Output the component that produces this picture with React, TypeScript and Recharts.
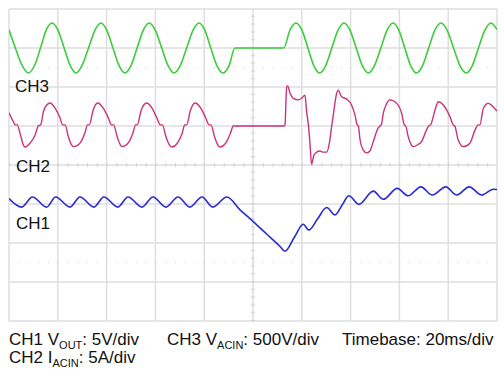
import { LineChart, Line, XAxis, YAxis, ReferenceLine } from "recharts";

// time in ms (20 ms/div), level in screen divisions from the bottom (8 div tall)
const timeGrid = [0, 20, 40, 60, 80, 100, 120, 140, 160, 180, 200];
const levelGrid = [0, 1, 2, 3, 4, 5, 6, 7, 8];
const dottedLevels = [1.5, 6.5];

// CH3 V_ACIN (green)
const ch3: [number, number][] = [
  [0, 7.47], [2.6, 7.0], [5.3, 6.56], [8.0, 6.36], [10.6, 6.57], [12.9, 7.0], [15.2, 7.45], [17.6, 7.64],
  [20.1, 7.45], [22.6, 7.0], [25.1, 6.55], [27.5, 6.36], [30.0, 6.56], [32.6, 7.0], [35.2, 7.45], [37.7, 7.64],
  [40.1, 7.45], [42.6, 7.0], [45.1, 6.55], [47.5, 6.36], [50.0, 6.55], [52.5, 7.0], [55.0, 7.45], [57.4, 7.64],
  [60.0, 7.45], [62.6, 7.0], [65.1, 6.56], [67.6, 6.36], [70.2, 6.55], [72.8, 7.0], [75.4, 7.45], [77.9, 7.64],
  [80.3, 7.45], [82.7, 7.0], [85.2, 6.55], [87.7, 6.36], [90.2, 6.55], [92.6, 7.0],
  [112.6, 7.0], [115.1, 7.45], [117.6, 7.64],
  [120.1, 7.45], [122.5, 7.0], [124.9, 6.55], [127.3, 6.36], [129.8, 6.55], [132.3, 7.0], [134.8, 7.45], [137.3, 7.64],
  [139.8, 7.45], [142.3, 7.0], [144.8, 6.55], [147.3, 6.36], [149.8, 6.55], [152.4, 7.0], [154.9, 7.45], [157.4, 7.64],
  [159.8, 7.45], [162.2, 7.0], [164.6, 6.55], [167.0, 6.36], [169.5, 6.55], [172.0, 7.0], [174.5, 7.45], [177.0, 7.64],
  [179.6, 7.45], [182.2, 7.0], [184.8, 6.55], [187.4, 6.36], [189.9, 6.55], [192.4, 7.0], [195.0, 7.45], [197.5, 7.64],
  [200, 7.47],
];

// CH2 I_ACIN (magenta)
const ch2: [number, number][] = [
  [0, 5.34], [1.8, 5.11], [2.5, 5.03], [3.4, 5.03], [4.5, 4.82], [5.9, 4.51], [6.6, 4.46], [8.6, 4.56],
  [10.7, 4.77], [12.0, 5.0], [13.0, 5.03], [14.1, 5.37], [15.5, 5.54], [16.8, 5.59], [18.9, 5.46], [20.9, 5.21],
  [22.0, 5.03], [23.0, 5.03], [24.3, 4.73], [25.7, 4.51], [26.6, 4.47], [29.1, 4.56], [31.1, 4.82], [32.2, 5.03],
  [32.9, 5.03], [34.5, 5.41], [36.3, 5.59], [38.6, 5.46], [40.7, 5.21], [42.0, 5.03], [42.9, 5.03], [44.3, 4.73],
  [45.7, 4.51], [46.4, 4.47], [48.8, 4.56], [50.8, 4.82], [51.9, 5.03], [52.6, 5.03], [54.2, 5.41], [56.4, 5.59],
  [58.6, 5.46], [60.6, 5.21], [62.0, 5.03], [62.9, 5.03], [64.3, 4.73], [65.8, 4.51], [66.8, 4.46], [69.0, 4.56],
  [71.0, 4.82], [72.0, 5.03], [72.8, 5.03], [74.4, 5.41], [76.2, 5.59], [78.6, 5.46], [80.6, 5.21], [82.0, 5.03],
  [82.8, 5.03], [84.2, 4.73], [85.6, 4.51], [86.5, 4.46], [88.8, 4.56], [90.8, 4.82], [91.9, 5.0],
  [112.6, 5.0], [113.1, 5.03], [113.8, 6.0], [114.2, 6.03], [115.2, 5.84], [116.5, 5.71], [118.6, 5.67],
  [119.9, 5.71], [121.3, 5.79], [122.0, 5.36], [122.7, 5.03], [123.4, 4.51], [124.0, 4.02], [125.0, 4.26],
  [126.1, 4.33], [127.4, 4.36], [128.8, 4.33], [130.2, 4.33], [131.3, 4.56], [132.2, 4.98], [132.9, 5.28],
  [134.3, 5.84], [134.9, 5.92], [136.3, 5.75], [138.4, 5.69], [140.4, 5.54], [141.8, 5.28], [142.7, 5.03],
  [143.2, 5.0], [143.8, 4.68], [145.2, 4.38], [146.5, 4.31], [147.9, 4.36], [149.3, 4.6], [151.3, 4.95],
  [152.0, 5.0], [152.6, 5.03], [153.4, 5.33], [154.6, 5.55], [156.1, 5.67], [158.9, 5.58], [160.9, 5.33],
  [162.0, 5.03], [162.6, 5.0], [163.6, 4.73], [165.7, 4.47], [167.5, 4.52], [169.1, 4.6], [171.1, 4.9],
  [172.0, 5.0], [172.8, 5.03], [174.6, 5.41], [175.9, 5.62], [178.0, 5.54], [180.7, 5.24], [182.0, 5.03],
  [182.7, 5.0], [184.1, 4.64], [186.2, 4.47], [188.9, 4.56], [191.0, 4.9], [192.3, 5.03], [193.0, 5.03],
  [194.4, 5.45], [196.4, 5.58], [198.5, 5.49], [200, 5.38],
];

// CH1 V_OUT (blue)
const ch1: [number, number][] = [
  [0, 3.14], [5.2, 2.92], [9.6, 3.18], [15.4, 2.92], [19.1, 3.18], [25.0, 2.92], [29.1, 3.18], [34.8, 2.92],
  [38.9, 3.18], [44.6, 2.92], [48.8, 3.18], [54.5, 2.92], [59.0, 3.18], [64.3, 2.92], [69.3, 3.18], [74.1, 2.92],
  [79.1, 3.18], [83.5, 2.92], [89.3, 3.18], [94.7, 2.85], [100.1, 2.55], [105.6, 2.23], [111.1, 1.91],
  [113.1, 1.79], [116.9, 2.14], [120.6, 2.48], [122.9, 2.33], [126.5, 2.62], [130.2, 2.91], [133.6, 2.72],
  [136.5, 2.97], [139.3, 3.21], [143.4, 2.99], [149.3, 3.33], [153.4, 3.12], [159.1, 3.4], [163.6, 3.21],
  [168.8, 3.44], [173.5, 3.23], [179.0, 3.44], [183.5, 3.23], [188.6, 3.44], [193.7, 3.23], [198.5, 3.38],
  [200, 3.37],
];

const toPoints = (arr: [number, number][]) => arr.map(([t, v]) => ({ t, v }));

const GRID = "#dedede";
const FONT = '"Liberation Sans", Arial, Helvetica, sans-serif';

const sub = { fontSize: 11, verticalAlign: "-4px" } as const;

function Label({ x, y, children }: { x: number; y: number; children: React.ReactNode }) {
  return (
    <div style={{ position: "absolute", left: x, top: y, fontSize: 17, lineHeight: 1, whiteSpace: "nowrap", color: "#111" }}>
      {children}
    </div>
  );
}

export default function App() {
  return (
    <div style={{ position: "absolute", left: 0, top: 0, width: 504, height: 379, background: "#fff", fontFamily: FONT }}>
      <LineChart width={504} height={379} margin={{ top: 9, right: 7, bottom: 58, left: 9 }}>
        <XAxis type="number" dataKey="t" domain={[0, 200]} hide allowDataOverflow />
        <YAxis type="number" dataKey="v" domain={[0, 8]} hide allowDataOverflow />
        {levelGrid.map((v) => (
          <ReferenceLine key={`h${v}`} y={v} stroke={GRID} strokeWidth={1.5} />
        ))}
        {timeGrid.map((t) => (
          <ReferenceLine key={`v${t}`} x={t} stroke={GRID} strokeWidth={1.5} />
        ))}
        {dottedLevels.map((v) => (
          <ReferenceLine key={`d${v}`} y={v} stroke="#cfcfcf" strokeWidth={1} strokeDasharray="1 8.76" />
        ))}
        <ReferenceLine y={4} stroke="#d2d2d2" strokeWidth={4} strokeDasharray="1 8.76" />
        <ReferenceLine x={100} stroke="#d2d2d2" strokeWidth={4} strokeDasharray="1 6.8" />
        <Line data={toPoints(ch3)} dataKey="v" type="monotone" stroke="#3ccc3c" strokeWidth={1.6} dot={false} activeDot={false} isAnimationActive={false} />
        <Line data={toPoints(ch2)} dataKey="v" type="monotone" stroke="#cc3377" strokeWidth={1.4} dot={false} activeDot={false} isAnimationActive={false} />
        <Line data={toPoints(ch1)} dataKey="v" type="monotone" stroke="#2b2bd0" strokeWidth={1.6} dot={false} activeDot={false} isAnimationActive={false} />
      </LineChart>
      <Label x={15} y={78}>CH3</Label>
      <Label x={16} y={158}>CH2</Label>
      <Label x={16} y={215}>CH1</Label>
      <Label x={9} y={331}>
        CH1 V<span style={sub}>OUT</span>: 5V/div
      </Label>
      <Label x={167} y={331}>
        CH3 V<span style={sub}>ACIN</span>: 500V/div
      </Label>
      <Label x={342} y={331}>Timebase: 20ms/div</Label>
      <Label x={9} y={349}>
        CH2 I<span style={sub}>ACIN</span>: 5A/div
      </Label>
    </div>
  );
}
